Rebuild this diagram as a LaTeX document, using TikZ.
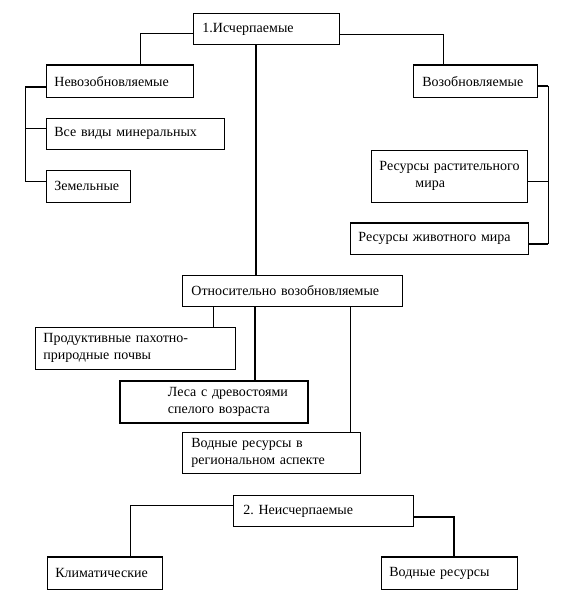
\documentclass[tikz,border=0pt]{standalone}
\usepackage{fontspec}
\setmainfont{Liberation Serif}
\begin{document}
\frenchspacing
\begin{tikzpicture}[x=1pt,y=-1pt,
  box/.style={draw, line width=0.8pt, anchor=north west, inner xsep=0pt, inner ysep=0pt,
    align=left, font=\fontsize{14}{17}\selectfont},
  conn/.style={line width=0.8pt},
  trunk/.style={line width=1.8pt},
  thickedge/.style={line width=2pt}]
\useasboundingbox[fill=white] (0,0) rectangle (578,604);

% top level
\node[box, text width=146pt, minimum height=31pt] (b1) at (193,13) {\hspace*{9pt}1.Исчерпаемые};

% left branch
\node[box, text width=147pt, minimum height=32pt] (nev) at (46,65) {\hspace*{8pt}Невозобновляемые};
\node[box, text width=178pt, minimum height=31pt] (min) at (46,118) {\hspace*{8pt}Все виды минеральных};
\node[box, text width=84pt, minimum height=32pt] (zem) at (46,170) {\hspace*{8pt}Земельные};

% right branch
\node[box, text width=124pt, minimum height=32pt] (voz) at (413,65) {\hspace*{9pt}Возобновляемые};
\node[box, text width=156pt, minimum height=52pt] (rast) at (371,150) {\hspace*{8pt}Ресурсы растительного\\\hspace*{44pt}мира\\[3pt]};
\node[box, text width=178pt, minimum height=31pt] (ziv) at (350,223) {\hspace*{8pt}Ресурсы животного мира};

% relatively renewable
\node[box, text width=220pt, minimum height=31pt] (otn) at (182,275) {\hspace*{9pt}Относительно возобновляемые};
\node[box, text width=200pt, minimum height=42pt] (prod) at (35,327) {\hspace*{8pt}Продуктивные пахотно-\\\hspace*{8pt}природные почвы};
\node[box, line width=1.8pt, text width=188pt, minimum height=42pt] (les) at (119,380) {\hspace*{48pt}Леса с древостоями\\\hspace*{48pt}спелого возраста};
\node[box, text width=178pt, minimum height=41pt] (vodr) at (182,432) {\hspace*{9pt}Водные ресурсы в\\\hspace*{9pt}региональном аспекте};

% inexhaustible
\node[box, text width=180pt, minimum height=31pt] (b2) at (233,495) {\hspace*{10pt}2. Неисчерпаемые};
\node[box, text width=115pt, minimum height=32pt] (klim) at (47,557) {\hspace*{8pt}Климатические};
\node[box, text width=136pt, minimum height=32pt] (vod) at (381,557) {\hspace*{8pt}Водные ресурсы};

% thick top edges
\draw[thickedge] (nev.north west) -- (nev.north east);
\draw[thickedge] (voz.north west) -- (voz.north east);
\draw[thickedge] (ziv.north west) -- (ziv.north east);
\draw[thickedge] (klim.north west) -- (klim.north east);
\draw[thickedge] (vod.north west) -- (vod.north east);

% connectors from top box
\draw[conn] ([yshift=-20pt]b1.north west) -| ([xshift=94pt]nev.north west);
\draw[conn] ([yshift=-21pt]b1.north east) -| ([xshift=30pt]voz.north west);
\draw[trunk] ([xshift=63pt]b1.south west) -- ([xshift=74pt]otn.north west);

% left bracket
\coordinate (lbtop) at (25,87);
\draw[thickedge] ([yshift=-22pt]nev.north west) -- (lbtop);
\draw[conn] (lbtop) |- ([yshift=-11pt]zem.north west);
\draw[conn] ([yshift=-10pt]min.north west) -- ([yshift=-10pt,xshift=-21pt]min.north west);

% right bracket
\coordinate (rbtop) at (548,86);
\coordinate (rbbot) at (548,244);
\draw[thickedge] ([yshift=-21pt]voz.north east) -- (rbtop);
\draw[conn] (rbtop) -- (rbbot);
\draw[conn] ([yshift=-31pt]rast.north east) -- ([yshift=-31pt,xshift=21pt]rast.north east);
\draw[thickedge] ([yshift=-21pt]ziv.north east) -- (rbbot);

% relatively renewable branches
\draw[conn] ([xshift=31pt]otn.south west) -- ([xshift=178pt]prod.north west);
\draw[trunk] ([xshift=73pt]otn.south west) -- ([xshift=136pt]les.north west);
\draw[conn] ([xshift=168pt]otn.south west) -- ([xshift=168pt]vodr.north west);

% inexhaustible branches
\draw[conn] ([yshift=-10pt]b2.north west) -| ([xshift=83pt]klim.north west);
\draw[line width=1.4pt] ([yshift=-22pt]b2.north east) -| ([xshift=73pt]vod.north west);
\end{tikzpicture}
\end{document}
